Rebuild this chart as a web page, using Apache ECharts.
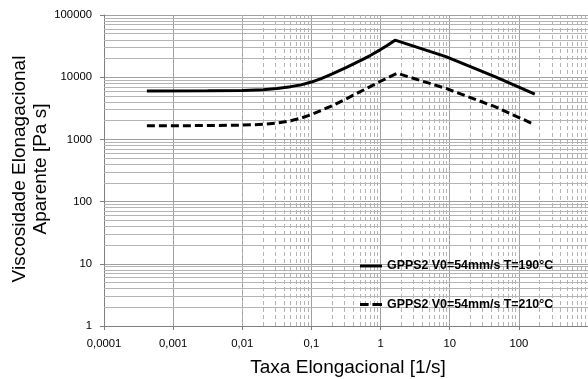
<!DOCTYPE html>
<html><head><meta charset="utf-8">
<script src="https://cdn.jsdelivr.net/npm/echarts@6/dist/echarts.min.js"></script>
<style>html,body{margin:0;padding:0;background:#fff}#c{width:588px;height:379px}</style>
</head><body><div id="c"></div>
<script>
const seriesNames = ['GPPS2 V0=54mm/s T=190°C', 'GPPS2 V0=54mm/s T=210°C'];
const x190 = [0.000417, 0.00316, 0.01, 0.02, 0.0316, 0.05, 0.0708, 0.1, 0.141, 0.2, 0.316, 0.5, 0.708, 1.0, 1.26, 1.62, 8.8, 45, 170];
const y190 = [6000, 6030, 6110, 6310, 6580, 7050, 7530, 8360, 9590, 11300, 14290, 18280, 22280, 27800, 32660, 39360, 21400, 10200, 5350];
const x210 = [0.000417, 0.00316, 0.01, 0.02, 0.0316, 0.05, 0.0708, 0.1, 0.141, 0.2, 0.316, 0.5, 0.708, 1.0, 1.26, 1.74, 8.8, 45, 165];
const y210 = [1660, 1667, 1698, 1746, 1828, 1995, 2198, 2512, 2951, 3483, 4467, 5794, 7047, 8610, 9772, 11560, 6600, 3360, 1750];
const xTitle = 'Taxa Elongacional [1/s]';
const yTitle = 'Viscosidade Elonagacional\nAparente [Pa s]';

function minorVals(n0, n1) {
  const out = [];
  for (let n = n0; n <= n1; n++) for (let k = 2; k <= 9; k++) out.push(Number((k * Math.pow(10, n)).toPrecision(3)));
  return out;
}
const xMinor = minorVals(-4, 2);
const yMinor = minorVals(0, 4);

function fmt(v) {
  const e = Math.round(Math.log10(v));
  return e < 0 ? v.toFixed(-e).replace('.', ',') : String(Math.round(v));
}

const axisCommon = {
  type: 'log', logBase: 10,
  axisLine: { lineStyle: { color: '#808080', width: 1 } },
  axisTick: { show: true, length: 4, lineStyle: { color: '#808080' } },
  splitLine: { show: true, lineStyle: { color: '#a0a0a0', width: 1 } },
  axisLabel: { margin: 12, fontSize: 11.3, fontFamily: 'Arial, Liberation Sans', color: '#000', formatter: fmt }
};

const chart = echarts.init(document.getElementById('c'), null, { renderer: 'canvas' });
chart.setOption({
  animation: false,
  backgroundColor: '#fff',
  grid: { left: 104, top: 15, width: 490, height: 311, containLabel: false },
  xAxis: Object.assign({}, axisCommon, { min: 0.0001, max: 1000,
    axisLabel: Object.assign({}, axisCommon.axisLabel, { showMaxLabel: false }) }),
  yAxis: Object.assign({}, axisCommon, { min: 1, max: 100000 }),
  legend: {
    data: [
      { name: seriesNames[0], icon: 'path://M0,0h23v3h-23z' },
      { name: seriesNames[1], icon: 'path://M0,0h9v3h-9zM13,0h10v3h-10z' }
    ],
    orient: 'vertical', left: 360, top: 260, padding: 0,
    itemWidth: 22, itemHeight: 3, itemGap: 26.5,
    itemStyle: { color: '#000', borderWidth: 0 },
    textStyle: { fontSize: 12.4, fontWeight: 'bold', fontFamily: 'Arial, Liberation Sans', color: '#000' }
  },
  graphic: [
    { type: 'text', x: 348, y: 368, style: { text: xTitle, font: '19px Arial, "Liberation Sans"', fill: '#000', textAlign: 'center', textVerticalAlign: 'middle' } },
    { type: 'text', x: 30, y: 169, rotation: Math.PI / 2, style: { text: yTitle, font: '19px Arial, "Liberation Sans"', lineHeight: 21, fill: '#000', textAlign: 'center', textVerticalAlign: 'middle' } }
  ],
  series: [
    { type: 'line', data: [], silent: true, z: 1,
      markLine: { silent: true, z: 1, symbol: 'none', animation: false, label: { show: false },
        lineStyle: { color: '#b4b4b4', width: 1, type: [4, 3] },
        data: xMinor.map(v => ({ xAxis: v })) } },
    { type: 'line', data: [], silent: true, z: 1,
      markLine: { silent: true, z: 1, symbol: 'none', animation: false, label: { show: false },
        lineStyle: { color: '#b4b4b4', width: 1, type: 'solid' },
        data: yMinor.map(v => ({ yAxis: v })) } },
    { name: seriesNames[0], type: 'line', z: 3, symbol: 'none', showSymbol: false,
      lineStyle: { color: '#000', width: 3 }, itemStyle: { color: '#000' },
      data: x190.map((x, i) => [x, y190[i]]) },
    { name: seriesNames[1], type: 'line', z: 3, symbol: 'none', showSymbol: false,
      lineStyle: { color: '#000', width: 3, type: [8, 4] }, itemStyle: { color: '#000' },
      data: x210.map((x, i) => [x, y210[i]]) }
  ]
});
</script></body></html>
